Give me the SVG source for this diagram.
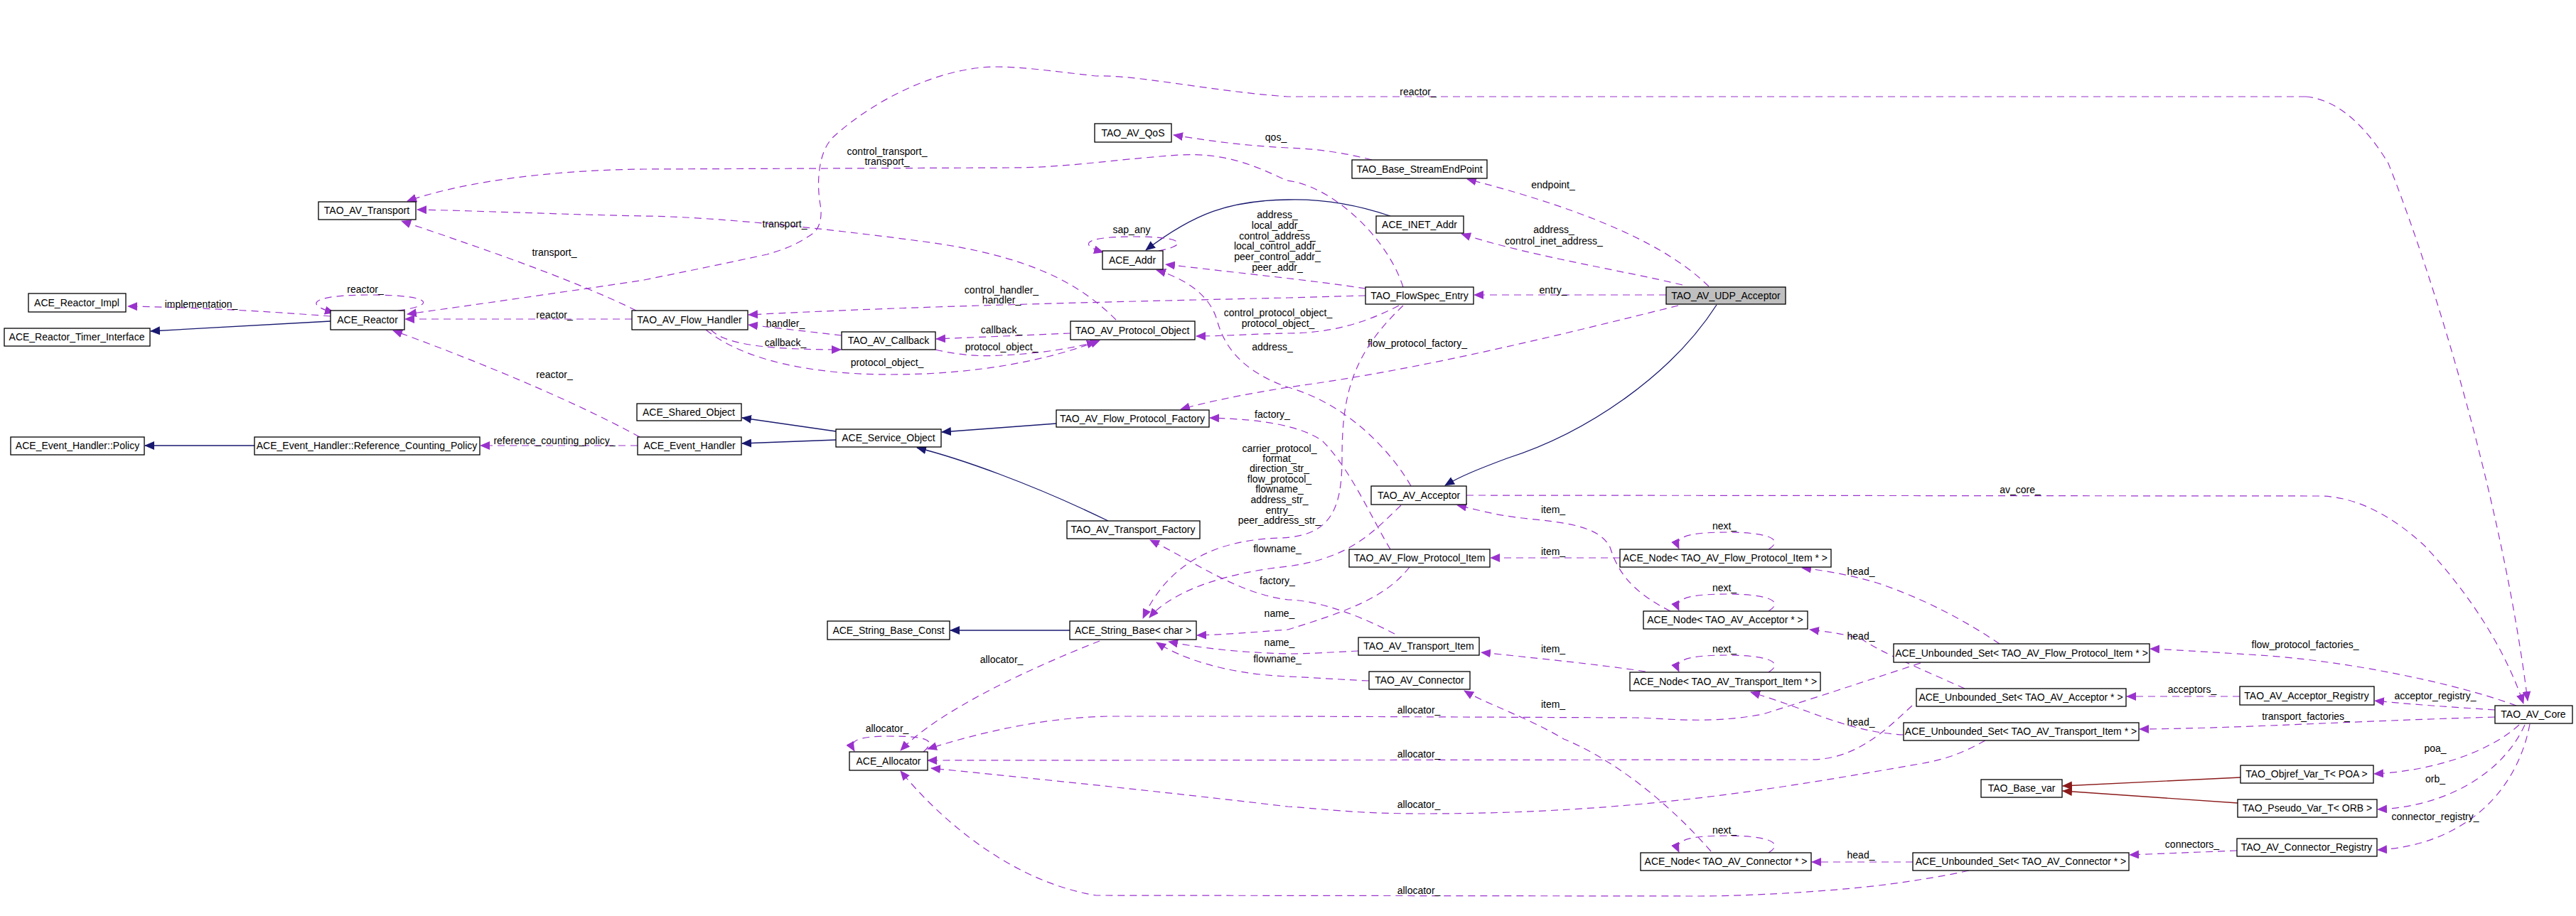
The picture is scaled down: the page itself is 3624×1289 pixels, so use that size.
<svg xmlns="http://www.w3.org/2000/svg" width="3624" height="1289" viewBox="0 0 3624 1289">
<style>
.n rect{fill:#fff;stroke:#000;stroke-width:1.3}
.n text{font-family:"Liberation Sans",Arial,sans-serif;font-size:14px;text-anchor:middle;fill:#000}
.d{fill:none;stroke:#9a32cd;stroke-width:1.2;stroke-dasharray:10,7;marker-end:url(#ap)}
.i{fill:none;stroke:#191970;stroke-width:1.3;marker-end:url(#an)}
.t{fill:none;stroke:#8b1a1a;stroke-width:1.3;marker-end:url(#ar)}
.l{font-family:"Liberation Sans",Arial,sans-serif;font-size:14px;text-anchor:middle;fill:#000}
</style>
<defs>
<marker id="ap" markerUnits="userSpaceOnUse" markerWidth="14" markerHeight="12" refX="13" refY="6" orient="auto"><path d="M0,0 L14,6 L0,12 Z" fill="#9a32cd"/></marker>
<marker id="an" markerUnits="userSpaceOnUse" markerWidth="14" markerHeight="12" refX="13" refY="6" orient="auto"><path d="M0,0 L14,6 L0,12 Z" fill="#191970"/></marker>
<marker id="ar" markerUnits="userSpaceOnUse" markerWidth="14" markerHeight="12" refX="13" refY="6" orient="auto"><path d="M0,0 L14,6 L0,12 Z" fill="#8b1a1a"/></marker>
</defs>
<rect width="3624" height="1289" fill="#fff"/>
<g id="connectors">
<path class="d" d="M3244,136 C3290,140 3330,180 3360,230 C3420,380 3520,700 3556,986"/>
<path class="d" d="M3244,136 L1812,136 C1700,128 1600,105 1542,107 C1480,100 1440,94 1397,94 C1320,96 1230,140 1172,193 C1150,215 1149,260 1154,288 C1158,310 1150,325 1143,329 C1120,345 1100,352 1079,358 C1000,375 950,385 906,394 C800,410 660,430 573,442"/>
<text class="l" x="1995" y="134">reactor_</text>
<path class="d" d="M1974,404 C1950,330 1870,260 1810,254 C1760,230 1720,215 1660,218 C1560,225 1500,236 1420,236 L906,238 C750,240 640,260 573,283"/>
<text class="l" x="1248" y="218">control_transport_</text>
<text class="l" x="1248" y="232">transport_</text>
<path class="d" d="M895,437 C800,390 650,340 565,311"/>
<text class="l" x="780" y="360">transport_</text>
<path class="d" d="M1570,450 C1520,400 1450,360 1300,340 C1150,320 1000,305 906,304 C800,302 650,296 587,295"/>
<text class="l" x="1104" y="320">transport_</text>
<path class="d" d="M560,437 C615,430 610,415 520,415 C440,415 425,428 470,440"/>
<text class="l" x="514" y="412">reactor_</text>
<path class="d" d="M465,445 C400,440 300,433 180,431"/>
<text class="l" x="283" y="433">implementation_</text>
<path class="i" d="M465,452 L212,466"/>
<path class="d" d="M889,449 L570,449"/>
<text class="l" x="780" y="448">reactor_</text>
<path class="d" d="M900,615 C800,560 650,500 553,465"/>
<text class="l" x="780" y="532">reactor_</text>
<path class="d" d="M897,627 L676,627"/>
<text class="l" x="780" y="625">reference_counting_policy_</text>
<path class="i" d="M358,627 L204,627"/>
<path class="i" d="M1176,619 L1044,624"/>
<path class="i" d="M1176,607 L1044,588"/>
<path class="i" d="M1486,596 L1325,608"/>
<path class="i" d="M1559,733 C1450,680 1350,645 1290,630"/>
<path class="i" d="M1505,887 L1337,887"/>
<path class="d" d="M1184,472 L1053,457"/>
<text class="l" x="1105" y="460">handler_</text>
<path class="d" d="M1000,464 C1020,485 1080,492 1183,492"/>
<text class="l" x="1105" y="487">callback_</text>
<path class="d" d="M993,464 C1050,510 1150,527 1253,527 C1380,527 1480,505 1547,479"/>
<text class="l" x="1248" y="515">protocol_object_</text>
<path class="d" d="M1506,469 L1317,477"/>
<text class="l" x="1409" y="469">callback_</text>
<path class="d" d="M1316,492 C1350,500 1380,502 1409,500 C1460,498 1510,490 1542,481"/>
<text class="l" x="1409" y="493">protocol_object_</text>
<path class="d" d="M1921,416 L1812,419 C1600,424 1300,430 1053,443"/>
<text class="l" x="1409" y="413">control_handler_</text>
<text class="l" x="1409" y="427">handler_</text>
<path class="d" d="M1968,430 C1920,455 1870,469 1812,469 C1760,470 1720,473 1683,473"/>
<text class="l" x="1798" y="445">control_protocol_object_</text>
<text class="l" x="1798" y="460">protocol_object_</text>
<path class="d" d="M1921,406 C1850,395 1750,385 1640,372"/>
<text class="l" x="1797" y="307">address_</text>
<text class="l" x="1797" y="322">local_addr_</text>
<text class="l" x="1797" y="337">control_address_</text>
<text class="l" x="1797" y="351">local_control_addr_</text>
<text class="l" x="1797" y="366">peer_control_addr_</text>
<text class="l" x="1797" y="381">peer_addr_</text>
<path class="i" d="M1956,304 C1900,285 1850,280 1812,281 C1730,282 1680,300 1612,352"/>
<path class="d" d="M1630,353 C1672,345 1668,333 1595,333 C1522,333 1518,345 1552,355"/>
<text class="l" x="1592" y="328">sap_any</text>
<path class="d" d="M1985,684 C1960,640 1900,570 1812,545 C1740,520 1720,480 1712,450 C1700,410 1660,390 1627,380"/>
<text class="l" x="1790" y="493">address_</text>
<path class="d" d="M1930,225 C1880,212 1840,209 1812,208 C1750,205 1700,198 1651,190"/>
<text class="l" x="1795" y="198">qos_</text>
<path class="d" d="M2404,403 C2350,350 2250,300 2064,252"/>
<text class="l" x="2185" y="265">endpoint_</text>
<path class="d" d="M2367,401 C2280,380 2150,360 2056,329"/>
<text class="l" x="2186" y="328">address_</text>
<text class="l" x="2186" y="344">control_inet_address_</text>
<path class="d" d="M2344,415 L2074,415"/>
<text class="l" x="2185" y="413">entry_</text>
<path class="d" d="M2361,430 C2200,470 2000,520 1812,545 C1750,555 1700,565 1661,576"/>
<text class="l" x="1994" y="488">flow_protocol_factory_</text>
<path class="i" d="M2415,429 C2350,530 2230,610 2120,645 C2080,660 2055,670 2033,683"/>
<path class="d" d="M1974,430 C1900,500 1888,560 1888,645 C1888,720 1870,755 1800,757 C1700,760 1640,800 1608,870"/>
<text class="l" x="1800" y="636">carrier_protocol_</text>
<text class="l" x="1800" y="650">format_</text>
<text class="l" x="1800" y="664">direction_str_</text>
<text class="l" x="1800" y="679">flow_protocol_</text>
<text class="l" x="1800" y="693">flowname_</text>
<text class="l" x="1800" y="708">address_str_</text>
<text class="l" x="1800" y="723">entry_</text>
<text class="l" x="1800" y="737">peer_address_str_</text>
<path class="d" d="M1971,711 C1930,750 1900,785 1812,797 C1730,805 1650,830 1617,869"/>
<text class="l" x="1797" y="777">flowname_</text>
<path class="d" d="M1962,892 C1920,870 1860,845 1812,844 C1740,835 1680,790 1618,760"/>
<text class="l" x="1797" y="822">factory_</text>
<path class="d" d="M1983,798 C1950,840 1899,859 1812,886 C1760,890 1720,893 1684,894"/>
<text class="l" x="1800" y="868">name_</text>
<path class="d" d="M1911,916 C1870,918 1840,920 1812,920 C1740,918 1690,912 1644,903"/>
<text class="l" x="1800" y="909">name_</text>
<path class="d" d="M1926,958 C1880,956 1840,953 1812,952 C1720,948 1660,925 1627,904"/>
<text class="l" x="1797" y="932">flowname_</text>
<path class="d" d="M1956,773 C1930,730 1900,660 1860,620 C1830,600 1780,590 1702,588"/>
<text class="l" x="1790" y="588">factory_</text>
<path class="d" d="M1547,902 C1450,940 1320,1000 1267,1056"/>
<text class="l" x="1409" y="933">allocator_</text>
<path class="d" d="M1299,1058 C1320,1040 1300,1036 1250,1036 C1200,1036 1195,1045 1202,1057"/>
<text class="l" x="1248" y="1030">allocator_</text>
<path class="d" d="M2702,933 C2620,960 2560,980 2480,1005 C2400,1020 2340,1010 2300,1010 L1812,1008 L1559,1008 C1450,1010 1350,1040 1305,1054"/>
<text class="l" x="1996" y="1004">allocator_</text>
<path class="d" d="M2690,993 C2650,1030 2610,1069 2546,1069 L1305,1070"/>
<text class="l" x="1996" y="1066">allocator_</text>
<path class="d" d="M2793,1042 C2760,1060 2740,1068 2700,1075 C2500,1110 2300,1145 2003,1145 C1900,1145 1850,1137 1812,1135 C1600,1110 1400,1090 1310,1081"/>
<text class="l" x="1996" y="1137">allocator_</text>
<path class="d" d="M2770,1225 C2740,1232 2718,1235 2700,1238 C2600,1255 2450,1261 2390,1261 L1542,1260 C1420,1240 1320,1150 1267,1085"/>
<text class="l" x="1996" y="1258">allocator_</text>
<path class="d" d="M2350,860 C2290,830 2275,800 2265,770 C2250,740 2200,735 2150,730 C2100,725 2070,715 2050,711"/>
<text class="l" x="2185" y="722">item_</text>
<path class="d" d="M2279,785 L2097,785"/>
<text class="l" x="2185" y="781">item_</text>
<path class="d" d="M2315,945 C2250,935 2150,925 2084,918"/>
<text class="l" x="2185" y="918">item_</text>
<path class="d" d="M2407,1198 C2330,1110 2250,1060 2200,1040 C2150,1010 2090,990 2060,972"/>
<text class="l" x="2185" y="996">item_</text>
<path class="d" d="M2488,773 C2510,760 2490,749 2430,749 C2370,749 2355,757 2362,772"/>
<text class="l" x="2426" y="745">next_</text>
<path class="d" d="M2488,860 C2510,847 2490,836 2430,836 C2370,836 2355,844 2362,859"/>
<text class="l" x="2426" y="832">next_</text>
<path class="d" d="M2488,946 C2510,933 2490,922 2430,922 C2370,922 2355,930 2362,945"/>
<text class="l" x="2426" y="918">next_</text>
<path class="d" d="M2488,1200 C2510,1187 2490,1176 2430,1176 C2370,1176 2355,1184 2362,1199"/>
<text class="l" x="2426" y="1173">next_</text>
<path class="d" d="M2813,906 C2760,870 2700,840 2640,820 C2600,808 2560,802 2535,799"/>
<text class="l" x="2618" y="809">head_</text>
<path class="d" d="M2764,969 C2700,940 2650,920 2620,900 C2590,890 2560,888 2546,886"/>
<text class="l" x="2618" y="900">head_</text>
<path class="d" d="M2678,1034 C2600,1030 2550,1000 2463,974"/>
<text class="l" x="2618" y="1021">head_</text>
<path class="d" d="M2691,1213 L2549,1213"/>
<text class="l" x="2618" y="1208">head_</text>
<path class="d" d="M2063,697 L3267,698 C3320,700 3370,730 3411,768 C3460,820 3520,900 3550,990"/>
<text class="l" x="2842" y="694">av_core_</text>
<path class="d" d="M3540,993 C3450,960 3300,930 3180,922 C3100,917 3050,914 3025,913"/>
<text class="l" x="3243" y="912">flow_protocol_factories_</text>
<path class="d" d="M3510,999 C3450,995 3400,992 3341,986"/>
<text class="l" x="3426" y="984">acceptor_registry_</text>
<path class="d" d="M3151,980 L2992,980"/>
<text class="l" x="3084" y="975">acceptors_</text>
<path class="d" d="M3510,1009 C3300,1015 3150,1025 3010,1026"/>
<text class="l" x="3244" y="1013">transport_factories_</text>
<path class="d" d="M3544,1020 C3500,1060 3420,1085 3340,1089"/>
<text class="l" x="3426" y="1058">poa_</text>
<path class="d" d="M3552,1020 C3520,1090 3440,1135 3345,1139"/>
<text class="l" x="3426" y="1101">orb_</text>
<path class="d" d="M3559,1019 C3540,1120 3460,1190 3345,1196"/>
<text class="l" x="3426" y="1154">connector_registry_</text>
<path class="d" d="M3147,1197 L2996,1203"/>
<text class="l" x="3084" y="1193">connectors_</text>
<path class="t" d="M3152,1094 L2902,1106"/>
<path class="t" d="M3148,1130 L2902,1113"/>
</g>
<g id="n1" class="n"><rect x="448" y="284" width="137" height="25"/><text x="516" y="301">TAO_AV_Transport</text></g>
<g id="n2" class="n"><rect x="40" y="413" width="137" height="26"/><text x="108" y="431">ACE_Reactor_Impl</text></g>
<g id="n3" class="n"><rect x="6" y="462" width="205" height="25"/><text x="108" y="479">ACE_Reactor_Timer_Interface</text></g>
<g id="n4" class="n"><rect x="465" y="437" width="104" height="27"/><text x="517" y="455">ACE_Reactor</text></g>
<g id="n5" class="n"><rect x="15" y="615" width="188" height="25"/><text x="109" y="632">ACE_Event_Handler::Policy</text></g>
<g id="n6" class="n"><rect x="358" y="615" width="317" height="25"/><text x="516" y="632">ACE_Event_Handler::Reference_Counting_Policy</text></g>
<g id="n7" class="n"><rect x="1540" y="174" width="108" height="26"/><text x="1594" y="192">TAO_AV_QoS</text></g>
<g id="n8" class="n"><rect x="1551" y="353" width="85" height="26"/><text x="1593" y="371">ACE_Addr</text></g>
<g id="n9" class="n"><rect x="889" y="437" width="163" height="27"/><text x="970" y="455">TAO_AV_Flow_Handler</text></g>
<g id="n10" class="n"><rect x="1184" y="467" width="132" height="25"/><text x="1250" y="484">TAO_AV_Callback</text></g>
<g id="n11" class="n"><rect x="1506" y="452" width="175" height="26"/><text x="1593" y="470">TAO_AV_Protocol_Object</text></g>
<g id="n12" class="n"><rect x="896" y="568" width="147" height="24"/><text x="969" y="585">ACE_Shared_Object</text></g>
<g id="n13" class="n"><rect x="897" y="615" width="146" height="25"/><text x="970" y="632">ACE_Event_Handler</text></g>
<g id="n14" class="n"><rect x="1176" y="604" width="148" height="25"/><text x="1250" y="621">ACE_Service_Object</text></g>
<g id="n15" class="n"><rect x="1486" y="577" width="215" height="24"/><text x="1593" y="594">TAO_AV_Flow_Protocol_Factory</text></g>
<g id="n16" class="n"><rect x="1902" y="225" width="190" height="26"/><text x="1997" y="243">TAO_Base_StreamEndPoint</text></g>
<g id="n17" class="n"><rect x="1936" y="304" width="123" height="24"/><text x="1997" y="321">ACE_INET_Addr</text></g>
<g id="n18" class="n"><rect x="1921" y="404" width="152" height="24"/><text x="1997" y="421">TAO_FlowSpec_Entry</text></g>
<g id="n19" class="n"><rect x="2344" y="404" width="168" height="24" style="fill:#bfbfbf"/><text x="2428" y="421">TAO_AV_UDP_Acceptor</text></g>
<g id="n20" class="n"><rect x="1501" y="733" width="187" height="25"/><text x="1594" y="750">TAO_AV_Transport_Factory</text></g>
<g id="n21" class="n"><rect x="1164" y="874" width="172" height="26"/><text x="1250" y="892">ACE_String_Base_Const</text></g>
<g id="n22" class="n"><rect x="1505" y="874" width="178" height="26"/><text x="1594" y="892">ACE_String_Base&lt; char &gt;</text></g>
<g id="n23" class="n"><rect x="1195" y="1058" width="110" height="26"/><text x="1250" y="1076">ACE_Allocator</text></g>
<g id="n24" class="n"><rect x="1929" y="684" width="134" height="26"/><text x="1996" y="702">TAO_AV_Acceptor</text></g>
<g id="n25" class="n"><rect x="1898" y="773" width="198" height="25"/><text x="1997" y="790">TAO_AV_Flow_Protocol_Item</text></g>
<g id="n26" class="n"><rect x="2279" y="773" width="297" height="25"/><text x="2427" y="790">ACE_Node&lt; TAO_AV_Flow_Protocol_Item * &gt;</text></g>
<g id="n27" class="n"><rect x="2312" y="860" width="231" height="25"/><text x="2427" y="877">ACE_Node&lt; TAO_AV_Acceptor * &gt;</text></g>
<g id="n28" class="n"><rect x="1911" y="897" width="170" height="25"/><text x="1996" y="914">TAO_AV_Transport_Item</text></g>
<g id="n29" class="n"><rect x="1926" y="945" width="142" height="25"/><text x="1997" y="962">TAO_AV_Connector</text></g>
<g id="n30" class="n"><rect x="2293" y="946" width="268" height="26"/><text x="2427" y="964">ACE_Node&lt; TAO_AV_Transport_Item * &gt;</text></g>
<g id="n31" class="n"><rect x="2308" y="1200" width="240" height="25"/><text x="2428" y="1217">ACE_Node&lt; TAO_AV_Connector * &gt;</text></g>
<g id="n32" class="n"><rect x="2664" y="906" width="360" height="26"/><text x="2844" y="924">ACE_Unbounded_Set&lt; TAO_AV_Flow_Protocol_Item * &gt;</text></g>
<g id="n33" class="n"><rect x="2696" y="969" width="295" height="25"/><text x="2843" y="986">ACE_Unbounded_Set&lt; TAO_AV_Acceptor * &gt;</text></g>
<g id="n34" class="n"><rect x="2678" y="1017" width="331" height="25"/><text x="2843" y="1034">ACE_Unbounded_Set&lt; TAO_AV_Transport_Item * &gt;</text></g>
<g id="n35" class="n"><rect x="2691" y="1200" width="304" height="25"/><text x="2843" y="1217">ACE_Unbounded_Set&lt; TAO_AV_Connector * &gt;</text></g>
<g id="n36" class="n"><rect x="3151" y="966" width="189" height="26"/><text x="3245" y="984">TAO_AV_Acceptor_Registry</text></g>
<g id="n37" class="n"><rect x="3510" y="993" width="109" height="25"/><text x="3564" y="1010">TAO_AV_Core</text></g>
<g id="n38" class="n"><rect x="3152" y="1077" width="187" height="25"/><text x="3245" y="1094">TAO_Objref_Var_T&lt; POA &gt;</text></g>
<g id="n39" class="n"><rect x="2787" y="1097" width="114" height="25"/><text x="2844" y="1114">TAO_Base_var</text></g>
<g id="n40" class="n"><rect x="3148" y="1125" width="196" height="25"/><text x="3246" y="1142">TAO_Pseudo_Var_T&lt; ORB &gt;</text></g>
<g id="n41" class="n"><rect x="3147" y="1180" width="197" height="25"/><text x="3245" y="1197">TAO_AV_Connector_Registry</text></g>
</svg>
